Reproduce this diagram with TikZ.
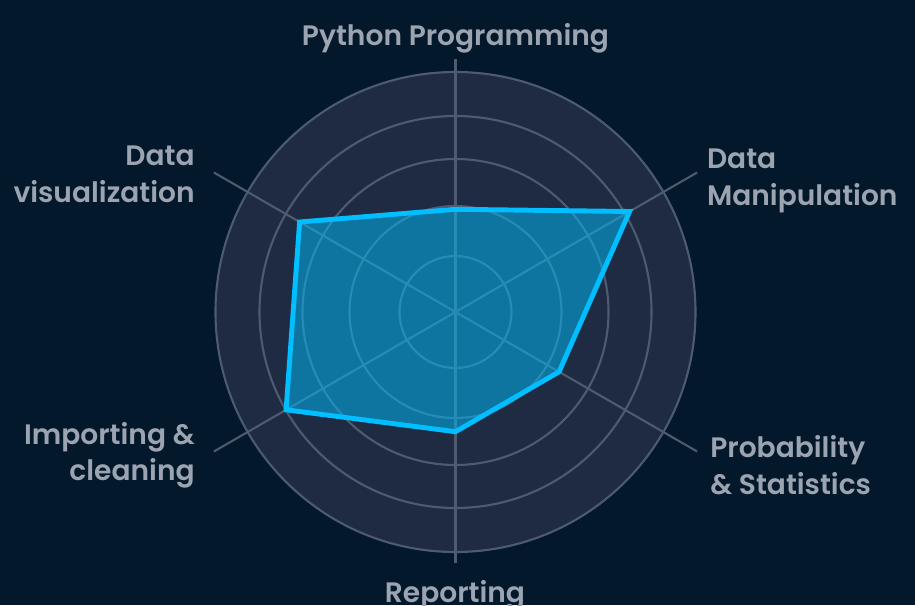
\documentclass[tikz,border=0pt]{standalone}
\usepackage{fontspec}
\setmainfont{Poppins}[BoldFont={Poppins SemiBold}]
\usepackage{tikz}
\usetikzlibrary{positioning}

\definecolor{bgnavy}{RGB}{3,24,43}
\definecolor{discblue}{RGB}{30,43,66}
\definecolor{gridgray}{RGB}{78,90,110}
\definecolor{skillcyan}{RGB}{0,190,255}
\definecolor{labelgray}{RGB}{155,164,176}

\tikzset{
  grid line/.style={draw=gridgray, line width=1.2pt},
  skill area/.style={draw=skillcyan, fill=skillcyan, fill opacity=0.5, line width=2.8pt},
  skill label/.style={text=labelgray, font=\bfseries\fontsize{16}{21}\selectfont, inner sep=0pt},
}

\begin{document}
\begin{tikzpicture}[x=0.02cm,y=0.02cm]
	\fill[bgnavy] (-455.5,-293) rectangle (459.5,312);
	\useasboundingbox (-455.5,-293) rectangle (459.5,312);

	\coordinate (origo) at (0,0);
	\fill[discblue] (origo) circle (240);
	\foreach \r in {56,106,153,196,240}
		\draw[grid line] (origo) circle (\r);

	\coordinate (axis top) at (0,253);
	\coordinate (axis bottom) at (0,-251);
	\coordinate (axis ne) at (30:279);
	\coordinate (axis sw) at (210:279);
	\coordinate (axis nw) at (150:279);
	\coordinate (axis se) at (-30:279);
	\draw[grid line] (axis top) -- (axis bottom);
	\draw[grid line] (axis ne) -- (axis sw);
	\draw[grid line] (axis nw) -- (axis se);

	\coordinate (python) at (90:102.7);
	\coordinate (manip) at (30:201);
	\coordinate (prob) at (-30:119.6);
	\coordinate (report) at (-90:119.7);
	\coordinate (import) at (210:195.6);
	\coordinate (vis) at (150:180);
	\path[skill area] (python) -- (manip) -- (prob) -- (report) -- (import) -- (vis) -- cycle;

	\node[skill label, anchor=north] (python label) at (0,289.3) {Python Programming};
	\node[skill label, anchor=north west, align=left] (manip label) at (251.2,163.7) {Data\\Manipulation};
	\node[skill label, anchor=north west, align=left] (prob label) at (254.5,-123) {Probability\\\& Statistics};
	\node[skill label, anchor=north] (report label) at (-0.5,-268) {Reporting};
	\node[skill label, anchor=north east, align=right] (import label) at (-260.5,-109.7) {Importing \&\\cleaning};
	\node[skill label, anchor=north east, align=right] (vis label) at (-260.5,166) {Data\\visualization};
\end{tikzpicture}
\end{document}
